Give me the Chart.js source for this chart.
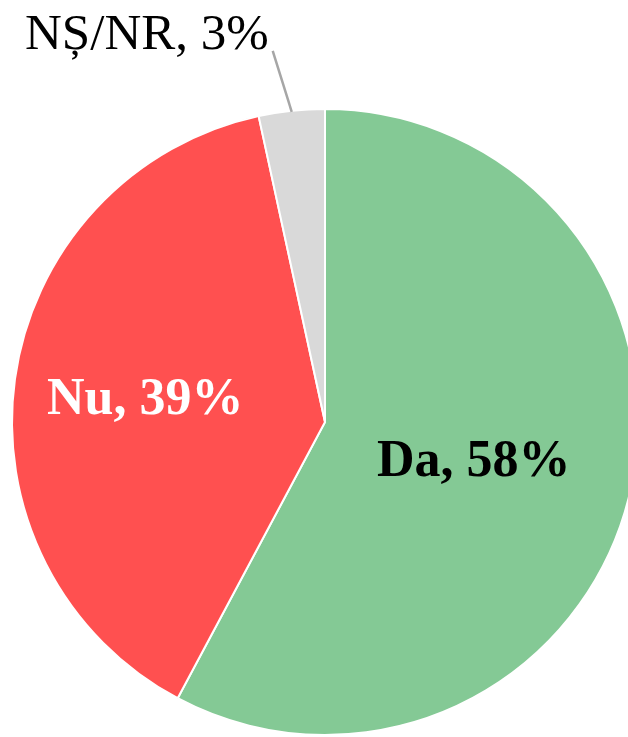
<!DOCTYPE html>
<html>
<head>
<meta charset="utf-8">
<script src="https://cdn.jsdelivr.net/npm/chart.js@4/dist/chart.umd.min.js"></script>
<style>
  html, body { margin: 0; padding: 0; background: #fff; overflow: hidden; }
  #wrap { position: relative; width: 650px; height: 737px; }
</style>
</head>
<body>
<div id="wrap"><canvas id="pieChart"></canvas></div>
<script>
const categories = ['Da', 'Nu', 'NȘ/NR'];
const shares = [57.8, 38.8, 3.4];
const percentLabels = ['58%', '39%', '3%'];
const sliceColors = ['#84C995', '#FF5050', '#D9D9D9'];

// label styling per slice: radial position (fraction of radius), colour, weight
const labelStyle = [
    { pos: 0.49, color: '#000', weight: 'bold', size: 52 },
    { pos: 0.58, color: '#fff', weight: 'bold', size: 52 },
    { pos: null, color: '#000', weight: 'normal', size: 51 }
];

const labelPlugin = {
    id: 'sliceLabels',
    afterDraw(chart) {
        const ctx = chart.ctx;
        const arcs = chart.getDatasetMeta(0).data;
        arcs.forEach((arc, i) => {
            const mid = (arc.startAngle + arc.endAngle) / 2;
            const text = `${categories[i]}, ${percentLabels[i]}`;
            const st = labelStyle[i];
            ctx.save();
            ctx.font = `${st.weight} ${st.size}px "Liberation Serif", "Times New Roman", serif`;
            ctx.fillStyle = st.color;
            if (st.pos !== null) {
                const r = arc.outerRadius * st.pos;
                ctx.textAlign = 'center';
                ctx.textBaseline = 'alphabetic';
                ctx.fillText(text, arc.x + Math.cos(mid) * r, arc.y + Math.sin(mid) * r + 17);
            } else {
                // outside label with leader line
                const sx = arc.x + Math.cos(mid) * (arc.outerRadius - 1);
                const sy = arc.y + Math.sin(mid) * (arc.outerRadius - 1);
                const ex = sx - 19;
                const ey = sy - 61;
                ctx.strokeStyle = '#A6A6A6';
                ctx.lineWidth = 2.5;
                ctx.beginPath();
                ctx.moveTo(sx, sy);
                ctx.lineTo(ex, ey);
                ctx.stroke();
                ctx.textAlign = 'right';
                ctx.textBaseline = 'alphabetic';
                ctx.fillText(text, ex - 4, ey - 2);
            }
            ctx.restore();
        });
    }
};

new Chart(document.getElementById('pieChart'), {
    type: 'pie',
    data: {
        labels: categories,
        datasets: [{
            data: shares,
            backgroundColor: sliceColors,
            borderColor: '#ffffff',
            borderWidth: 2
        }]
    },
    options: {
        responsive: true,
        maintainAspectRatio: false,
        animation: false,
        layout: { padding: { top: 108, bottom: 1, left: 11, right: 11 } },
        plugins: {
            legend: { display: false },
            tooltip: { enabled: false }
        }
    },
    plugins: [labelPlugin]
});
</script>
</body>
</html>
